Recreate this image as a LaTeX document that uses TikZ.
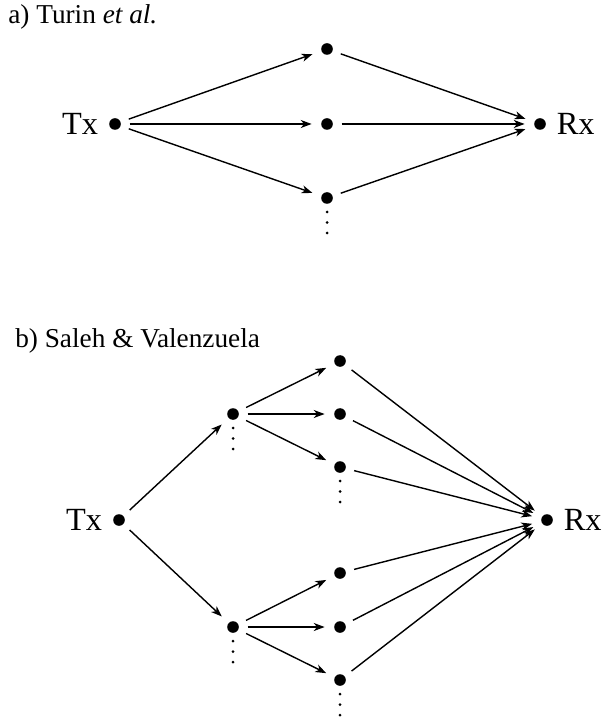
\documentclass[tikz,border=0pt]{standalone}
\usepackage{fontspec}
\setmainfont{Liberation Serif}
\usetikzlibrary{arrows.meta,positioning}

\tikzstyle{dot} = [circle,fill=black,inner sep=0pt,outer sep=0pt,minimum size=0.29cm]
\tikzstyle{smalldot} = [circle,fill=black,inner sep=0pt,outer sep=0pt,minimum size=0.075cm]
\tikzstyle{terminal} = [inner sep=0pt,font=\fontsize{23}{26}\selectfont]
\tikzstyle{caption} = [inner sep=0pt,anchor=base west,font=\fontsize{19.4}{22}\selectfont]
\tikzstyle{arrowdecorate}=[-{Stealth[length=0.27cm,width=0.2cm,inset=0.08cm]},line width=1pt,shorten <=0.22cm,shorten >=0.24cm]

\begin{document}
\begin{tikzpicture}[x=0.025cm,y=-0.025cm]
    \useasboundingbox (0,0) rectangle (601,720);
    %% captions
    \node[caption] (capa) at (8,24) {a) Turin \textit{et al.}};
    \node[caption] (capb) at (15,347) {b) Saleh \& Valenzuela};
    %% nodes
    \foreach \nodename/\x/\y in {
      atx/115/124, a1/327/49, a2/327/124, a3/327/198, arx/540/124,
      btx/119/520, b1/233/414, b2/233/627,
      bu1/340/361, bu2/340/414, bu3/340/467,
      bl1/340/573, bl2/340/627, bl3/340/680, brx/547/520}
    {
      \node[dot] (\nodename) at (\x,\y) {};
    }
    %% dots below the last path of each fan
    \foreach \nodename in {a3, b1, b2, bu3, bl3}
    {
      \foreach \k/\d in {1/14, 2/24.5, 3/35}
        \node[smalldot, below=\d*0.025cm of \nodename.center, anchor=center] (\nodename-v\k) {};
    }
    %% Tx and Rx
    \node[terminal, left=0.27cm of atx] (atxlabel) {Tx};
    \node[terminal, right=0.27cm of arx] (arxlabel) {Rx};
    \node[terminal, left=0.27cm of btx] (btxlabel) {Tx};
    \node[terminal, right=0.27cm of brx] (brxlabel) {Rx};
    %% paths
    \path
    \foreach \startnode/\endnode in {
      atx/a1, atx/a2, atx/a3, a1/arx, a2/arx, a3/arx,
      btx/b1, btx/b2,
      b1/bu1, b1/bu2, b1/bu3, b2/bl1, b2/bl2, b2/bl3,
      bu1/brx, bu2/brx, bu3/brx, bl1/brx, bl2/brx, bl3/brx}
    {
      (\startnode) edge[arrowdecorate] (\endnode)
    };
\end{tikzpicture}
\end{document}
